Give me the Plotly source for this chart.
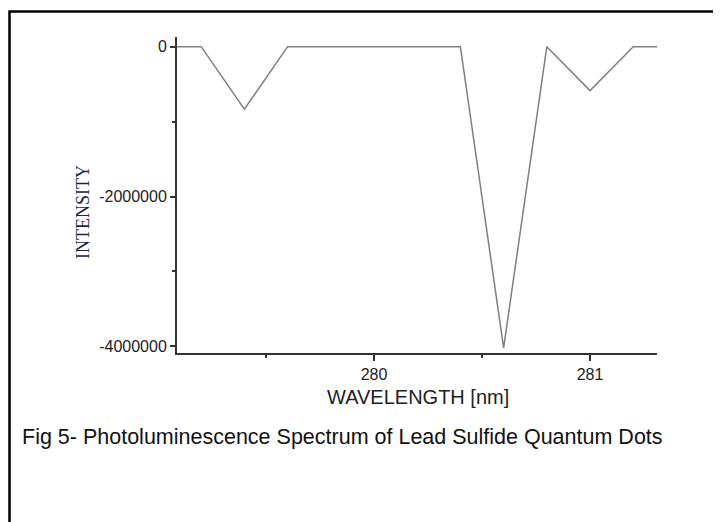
import plotly.graph_objects as go

# Data
wavelength = [279.0, 279.2, 279.4, 279.6, 279.8, 280.0, 280.2, 280.4, 280.6, 280.8, 281.0, 281.2, 281.4]
intensity = [0, 0, -835000, 0, 0, 0, 0, 0, -4020000, 0, -587000, 0, 0]

x_tickvals = [280, 281]
x_ticktext = ["280", "281"]
y_tickvals = [0, -2000000, -4000000]
y_ticktext = ["0", "-2000000", "-4000000"]

x_title = "WAVELENGTH [nm]"
y_title = "INTENSITY"
caption = "Fig 5- Photoluminescence Spectrum of Lead Sulfide Quantum Dots"

OFF = 8  # default page body margin
W, H = 721 - OFF, 522 - OFF
# plot area in page pixels
PL, PR, PT, PB = 177, 657, 37, 353
L, R, T, B = PL - OFF, PR - OFF, PT - OFF, PB - OFF


def px(xpage):
    return (xpage - PL) / (PR - PL)


def py(ypage):
    return (PB - ypage) / (PB - PT)


fig = go.Figure()
fig.add_trace(go.Scatter(
    x=wavelength, y=intensity, mode="lines",
    line=dict(color="#7f7f7f", width=1.5),
    showlegend=False, hoverinfo="skip",
))

axis_font = dict(family="Liberation Sans, Arial, sans-serif", size=16, color="#222222")

fig.update_layout(
    width=W, height=H,
    margin=dict(l=L, r=W - R, t=T, b=H - B, pad=0),
    paper_bgcolor="white", plot_bgcolor="white",
    xaxis=dict(
        range=[279.088, 281.31],
        showline=True, linecolor="#333333", linewidth=2,
        showgrid=False, zeroline=False,
        tickmode="array", tickvals=x_tickvals, ticktext=x_ticktext,
        ticks="outside", ticklen=6, tickwidth=2, tickcolor="#333333",
        minor=dict(dtick=0.5, tick0=279.5, ticks="outside", ticklen=3, tickwidth=2, tickcolor="#333333", showgrid=False),
        tickfont=axis_font,
    ),
    yaxis=dict(
        range=[-4088000, 129000],
        showline=True, linecolor="#333333", linewidth=2,
        showgrid=False, zeroline=False,
        tickmode="array", tickvals=y_tickvals, ticktext=y_ticktext,
        ticks="outside", ticklen=5, tickwidth=2, tickcolor="#333333",
        minor=dict(dtick=1000000, tick0=0, ticks="outside", ticklen=3, tickwidth=2, tickcolor="#333333", showgrid=False),
        tickfont=axis_font,
    ),
    annotations=[
        dict(text=x_title, xref="paper", yref="paper", x=px(417.5), y=py(397),
             xanchor="center", yanchor="middle", showarrow=False,
             font=dict(family="Liberation Sans, Arial, sans-serif", size=20, color="#222222")),
        dict(text=y_title, xref="paper", yref="paper", x=px(83), y=py(212),
             xanchor="center", yanchor="middle", showarrow=False, textangle=-90,
             font=dict(family="Liberation Serif, Times New Roman, serif", size=18, color="#1c2544")),
        dict(text=caption, xref="paper", yref="paper", x=px(20), y=py(437),
             xanchor="left", yanchor="middle", showarrow=False,
             font=dict(family="Liberation Sans, Arial, sans-serif", size=21.5, color="#111111")),
    ],
    shapes=[
        dict(type="rect", xref="paper", yref="paper",
             x0=px(9.5), x1=px(740), y0=py(560), y1=py(11.5),
             line=dict(color="black", width=2.5), fillcolor="rgba(0,0,0,0)", layer="above"),
    ],
)

fig.write_html("out.html")
